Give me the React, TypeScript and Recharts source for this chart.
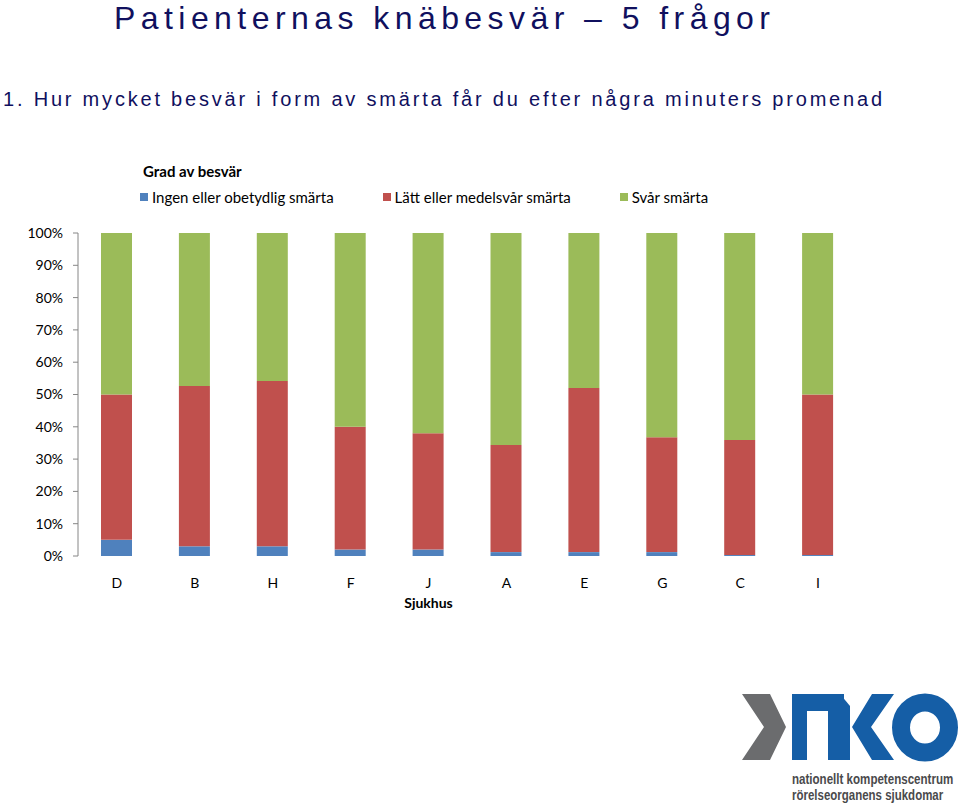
import React from "react";
import { Bar, BarChart, XAxis, YAxis } from "recharts";

const hospitals = ["D", "B", "H", "F", "J", "A", "E", "G", "C", "I"];
const ingenSmarta = [5, 3, 3, 2, 2, 1.2, 1.2, 1.2, 0.3, 0.3];
const lattSmarta = [45, 49.6, 51.2, 38, 36, 33.2, 50.8, 35.6, 35.6, 49.7];
const svarSmarta = [50, 47.4, 45.8, 60, 62, 65.6, 48, 63.2, 64.1, 50];
const yTicks = [0, 10, 20, 30, 40, 50, 60, 70, 80, 90, 100];
const boundaryTicks = [0, 1, 2, 3, 4, 5, 6, 7, 8, 9, 10];

const series = [
  { key: "ingen", name: "Ingen eller obetydlig smärta", color: "#4F81BD" },
  { key: "latt", name: "Lätt eller medelsvår smärta", color: "#C0504D" },
  { key: "svar", name: "Svår smärta", color: "#9BBB59" },
];

const data = hospitals.map((name, i) => ({
  name,
  ingen: ingenSmarta[i],
  latt: lattSmarta[i],
  svar: svarSmarta[i],
}));

const axisGray = "#868686";
const labelFont = "Lato, 'Open Sans', sans-serif";
const navy = "#10105e";
const sans = "'Liberation Sans', Arial, sans-serif";

function LegendBox() {
  return (
    <div style={{ position: "absolute", left: 140, top: 162, fontFamily: labelFont, fontSize: 15, color: "#000" }}>
      <div style={{ fontWeight: 700, marginLeft: 3, lineHeight: "18px" }}>Grad av besvär</div>
      <div style={{ display: "flex", gap: 49, marginTop: 8, lineHeight: "18px" }}>
        {series.map((s) => (
          <div key={s.key} style={{ display: "flex", alignItems: "center", gap: 4, whiteSpace: "nowrap" }}>
            <span style={{ width: 8, height: 8, background: s.color, display: "inline-block" }} />
            <span>{s.name}</span>
          </div>
        ))}
      </div>
    </div>
  );
}

function Logo() {
  const blue = "#155ea6";
  return (
    <svg width={960} height={803} style={{ position: "absolute", left: 0, top: 0, pointerEvents: "none" }}>
      <polygon points="742,694 770,694 786,727 770,760 742,760 764,727" fill="#6b6c6e" />
      <rect x={792} y={694} width={15} height={66} fill={blue} />
      <rect x={792} y={694} width={52} height={17} fill={blue} />
      <polygon points="828,700 840,694 850,706 850,760 828,760" fill={blue} />
      <polygon points="872,694 894,694 871,727 894,760 872,760 852,727" fill={blue} />
      <ellipse cx={925} cy={727.5} rx={24} ry={25} fill="none" stroke={blue} strokeWidth={18} />
      <g transform="translate(792,784) scale(0.72,1)">
        <text x={0} y={0} textLength={224} lengthAdjust="spacingAndGlyphs" fontFamily={sans} fontWeight={700} fontSize={14} fill="#4a4a4c">
          nationellt kompetenscentrum
        </text>
      </g>
      <g transform="translate(792,800) scale(0.72,1)">
        <text x={0} y={0} textLength={210} lengthAdjust="spacingAndGlyphs" fontFamily={sans} fontWeight={700} fontSize={14} fill="#4a4a4c">
          rörelseorganens sjukdomar
        </text>
      </g>
    </svg>
  );
}

function Titles() {
  return (
    <svg width={960} height={120} style={{ position: "absolute", left: 0, top: 0 }}>
      <text x={114} y={29} textLength={656} lengthAdjust="spacing" fontFamily={sans} fontSize={32} fill={navy}>
        Patienternas knäbesvär – 5 frågor
      </text>
      <text x={3} y={106} textLength={879} lengthAdjust="spacing" fontFamily={sans} fontSize={20} fill={navy}>
        1. Hur mycket besvär i form av smärta får du efter några minuters promenad
      </text>
    </svg>
  );
}

export default function App() {
  return (
    <div style={{ position: "absolute", left: 0, top: 0, width: 960, height: 803, background: "#fff" }}>
      <Titles />
      <LegendBox />
      <div style={{ position: "absolute", left: 0, top: 0 }}>
        <BarChart
          width={960}
          height={620}
          data={data}
          margin={{ top: 233, right: 103, bottom: 0, left: 0 }}
        >
          <XAxis
            xAxisId="bounds"
            type="number"
            domain={[0, 10]}
            ticks={boundaryTicks}
            height={0}
            stroke={axisGray}
            tickSize={5}
            tickFormatter={() => ""}
          />
          <XAxis
            dataKey="name"
            height={64}
            axisLine={false}
            tickLine={false}
            tickSize={0}
            tickMargin={22}
            interval={0}
            tick={{ fill: "#000", fontSize: 14, fontFamily: labelFont }}
            label={{
              content: ({ viewBox }: any) => (
                <text
                  x={viewBox.x + viewBox.width / 2 - 39}
                  y={viewBox.y + 52}
                  textAnchor="middle"
                  fontFamily={labelFont}
                  fontWeight={700}
                  fontSize={14}
                  fill="#000"
                >
                  Sjukhus
                </text>
              ),
            }}
          />
          <YAxis
            width={78}
            domain={[0, 100]}
            ticks={yTicks}
            interval={0}
            stroke={axisGray}
            tickSize={5}
            tickMargin={10}
            tickFormatter={(v) => `${v}%`}
            tick={{ fill: "#000", fontSize: 14, fontFamily: labelFont }}
          />
          {series.map((s) => (
            <Bar key={s.key} dataKey={s.key} name={s.name} stackId="a" fill={s.color} barSize={31} isAnimationActive={false} />
          ))}
        </BarChart>
      </div>
      <Logo />
    </div>
  );
}
